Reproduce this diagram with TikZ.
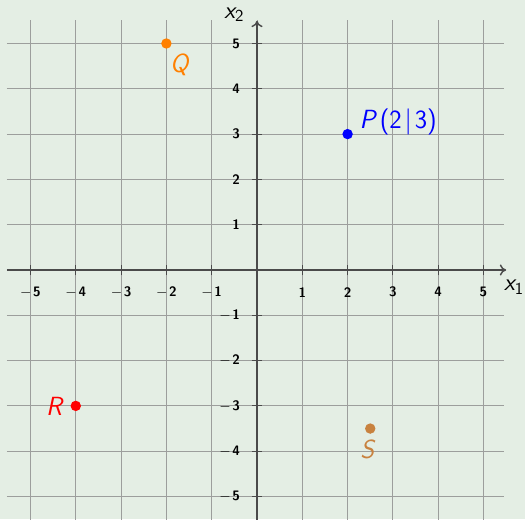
\documentclass[tikz,border=0pt]{standalone}
\usetikzlibrary{arrows.meta}
\definecolor{bgc}{HTML}{E4EEE4}
\definecolor{gridc}{HTML}{9C9E9C}
\definecolor{axisc}{HTML}{4A4A4A}
\definecolor{qorange}{HTML}{FF8000}
\definecolor{sbrown}{HTML}{C8823F}
\begin{document}
\begin{tikzpicture}[x=1cm,y=1cm,
  gridline/.style={draw=gridc,line width=0.6pt},
  axisline/.style={draw=axisc,line width=0.9pt,-{To[length=4pt,width=7pt]}},
  tickmark/.style={draw=axisc,line width=0.7pt},
  ticklabel/.style={font=\sffamily\bfseries\fontsize{8.6}{9}\selectfont,inner sep=0pt},
  ptdot/.style={circle,fill,inner sep=0pt,minimum size=0.23cm},
  ptlabel/.style={font=\sffamily\fontsize{16.5}{18}\selectfont,inner sep=0pt},
  axlabel/.style={font=\sffamily\slshape\fontsize{15}{17}\selectfont,inner sep=0pt}]
\fill[bgc] (-5.673,-5.497) rectangle (5.916,5.960);
\useasboundingbox (-5.673,-5.497) rectangle (5.916,5.960);
% grid
\foreach \k in {-5,...,5}{
  \draw[gridline] (\k,-5.6) -- (\k,5.52);
  \draw[gridline] (-5.52,\k) -- (5.45,\k);
}
% axes
\coordinate (xs) at (-5.52,0);
\coordinate (xe) at (5.5,0);
\coordinate (ys) at (0,-5.6);
\coordinate (ye) at (0,5.5);
\draw[axisline] (xs) -- (xe);
\draw[axisline] (ys) -- (ye);
% ticks and labels
\foreach \k in {-5,...,-1,1,2,...,5}{
  \draw[tickmark] (\k,-0.12) -- (\k,0.12);
  \draw[tickmark] (-0.12,\k) -- (0.12,\k);
}
\foreach \k in {1,...,5}{
  \node[ticklabel] (xl\k) at (\k,-0.49) {\k};
  \node[ticklabel,anchor=east] (yl\k) at (-0.37,\k) {\k};
}
\foreach \k in {1,...,5}{
  \node[ticklabel] (xn\k) at (-\k,-0.49) {$-$\kern1pt\k};
  \node[ticklabel,anchor=east] (yn\k) at (-0.37,-\k) {$-$\kern1pt\k};
}
\node[axlabel,anchor=west] (x1lab) at (5.45,-0.38) {x\textsubscript{\upshape1}};
\node[axlabel] (x2lab) at (-0.5,5.63) {x\textsubscript{\upshape2}};
% points
\node[ptdot,blue] (P) at (2,3) {};
\node[ptlabel,blue,anchor=west] (Plab) at (2.26,3.27) {\textsl{P}\kern1.5pt(2\kern1.8pt|\kern1.8pt3)};
\node[ptdot,qorange] (Q) at (-2,5) {};
\node[ptlabel,qorange] (Qlab) at (-1.70,4.53) {\textsl{Q}};
\node[ptdot,red] (R) at (-4,-3) {};
\node[ptlabel,red] (Rlab) at (-4.46,-3.0) {\textsl{R}};
\node[ptdot,sbrown] (S) at (2.5,-3.5) {};
\node[ptlabel,sbrown] (Slab) at (2.45,-3.97) {\textsl{S}};
\end{tikzpicture}
\end{document}
